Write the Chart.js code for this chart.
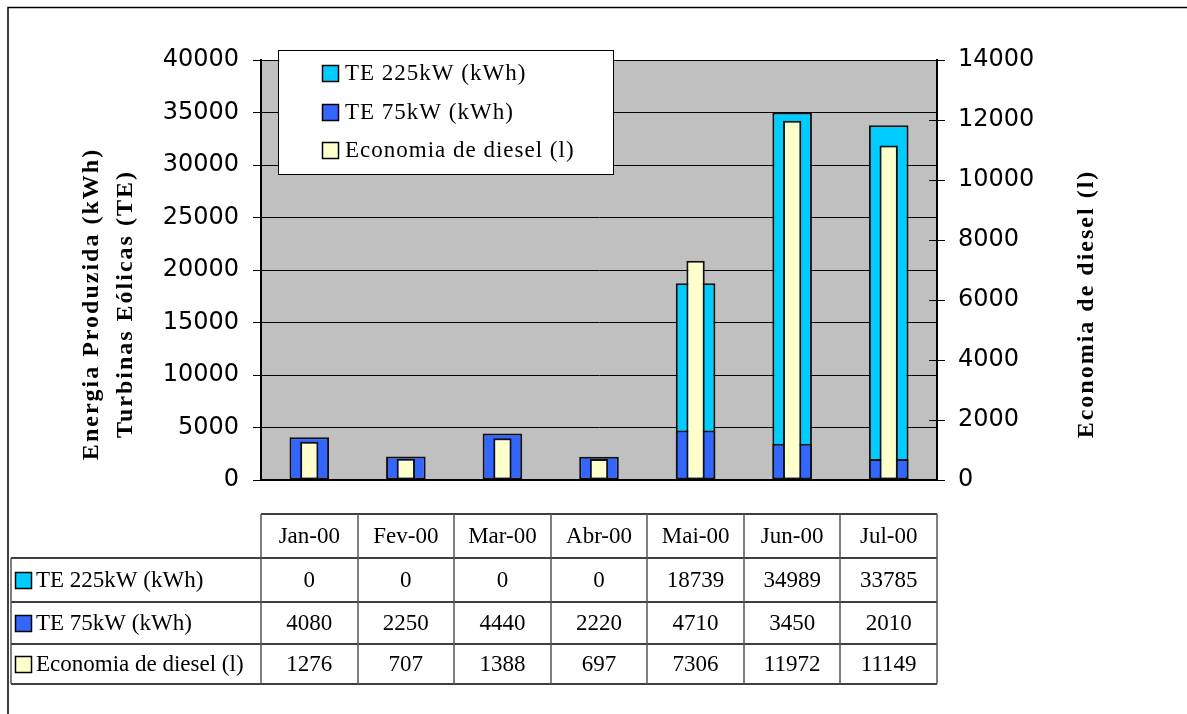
<!DOCTYPE html>
<html>
<head>
<meta charset="utf-8">
<script src="https://cdn.jsdelivr.net/npm/chart.js@4/dist/chart.umd.min.js"></script>
<style>
	body { margin: 0; background: #fff; }
	canvas { display: block; }
</style>
</head>
<body>
<canvas id="chart" width="1187" height="714"></canvas>
<script>
const months = ["Jan-00", "Fev-00", "Mar-00", "Abr-00", "Mai-00", "Jun-00", "Jul-00"];
const te225 = [0, 0, 0, 0, 18739, 34989, 33785];
const te75 = [4080, 2250, 4440, 2220, 4710, 3450, 2010];
const diesel = [1276, 707, 1388, 697, 7306, 11972, 11149];
const seriesNames = ["TE 225kW (kWh)", "TE 75kW (kWh)", "Economia de diesel (l)"];
const seriesColors = ["#00CCFF", "#3366FF", "#FFFFCC"];
const leftTitle = ["Energia Produzida (kWh)", "Turbinas Eólicas (TE)"];
const rightTitle = "Economia de diesel (l)";

const serif = "'Liberation Serif', 'Times New Roman', serif";
const tickFont = { family: "'DejaVu Sans', Verdana, sans-serif", size: 24 };

// grey plot area, drawn under the grid
const plotBackground = {
	id: "plotBackground",
	beforeDraw(chart) {
		const { ctx, chartArea: a } = chart;
		ctx.save();
		ctx.fillStyle = "#C0C0C0";
		ctx.fillRect(a.left, a.top, a.right - a.left, a.bottom - a.top);
		ctx.restore();
	},
};

function square(ctx, x, y, size, color) {
	ctx.fillStyle = color;
	ctx.fillRect(x, y, size, size);
	ctx.strokeStyle = "#000";
	ctx.lineWidth = 1.5;
	ctx.strokeRect(x + 0.5, y + 0.5, size - 1, size - 1);
}

// frame, titles, legend box and data table
const extras = {
	id: "extras",
	afterDatasetsDraw(chart) {
		const { ctx, chartArea: a } = chart;
		const y2 = chart.scales.y2;
		ctx.save();
		ctx.strokeStyle = "#000";
		ctx.lineWidth = 2;
		ctx.beginPath();
		ctx.moveTo(a.left, a.bottom);
		ctx.lineTo(a.right, a.bottom);
		ctx.stroke();
		// inner half of the right axis ticks
		ctx.lineWidth = 1;
		y2.ticks.forEach((t) => {
			const py = Math.round(y2.getPixelForValue(t.value)) + 0.5;
			ctx.beginPath();
			ctx.moveTo(a.right - 8, py);
			ctx.lineTo(a.right, py);
			ctx.stroke();
		});
		ctx.restore();
	},
	afterDraw(chart) {
		const { ctx, chartArea: a } = chart;
		ctx.save();

		// outer frame (top and left only)
		ctx.strokeStyle = "#000";
		ctx.lineWidth = 1.5;
		ctx.beginPath();
		ctx.moveTo(8, 714);
		ctx.lineTo(8, 7.5);
		ctx.lineTo(1187, 7.5);
		ctx.stroke();

		// axis titles
		ctx.fillStyle = "#000";
		ctx.font = "bold 24px " + serif;
		ctx.letterSpacing = "2px";
		ctx.textAlign = "center";
		ctx.textBaseline = "middle";
		[[92, leftTitle[0]], [126, leftTitle[1]], [1087, rightTitle]].forEach(([x, txt]) => {
			ctx.save();
			ctx.translate(x, 304);
			ctx.rotate(-Math.PI / 2);
			ctx.fillText(txt, 0, 0);
			ctx.restore();
		});

		// legend
		ctx.fillStyle = "#fff";
		ctx.fillRect(278, 50, 335, 124);
		ctx.strokeStyle = "#000";
		ctx.lineWidth = 1;
		ctx.strokeRect(278.5, 50.5, 335, 124);
		ctx.font = "23px " + serif;
		ctx.letterSpacing = "1px";
		ctx.textAlign = "left";
		[73, 112, 150].forEach((cy, i) => {
			square(ctx, 322, cy - 8, 17, seriesColors[i]);
			ctx.fillStyle = "#000";
			ctx.fillText(seriesNames[i], 345, cy + 1);
		});

		// data table
		const w = (a.right - a.left) / months.length;
		const rows = [514, 558, 602, 644, 684];
		const labelLeft = 11;
		ctx.strokeStyle = "#000";
		ctx.lineWidth = 1.5;
		ctx.beginPath();
		ctx.moveTo(a.left, rows[0]);
		ctx.lineTo(a.right, rows[0]);
		for (let r = 1; r < rows.length; r++) {
			ctx.moveTo(labelLeft, rows[r]);
			ctx.lineTo(a.right, rows[r]);
		}
		ctx.stroke();
		ctx.strokeStyle = "#555";
		ctx.beginPath();
		for (let c = 0; c <= months.length; c++) {
			const x = Math.round(a.left + c * w);
			ctx.moveTo(x, rows[0]);
			ctx.lineTo(x, rows[4]);
		}
		ctx.moveTo(labelLeft, rows[1]);
		ctx.lineTo(labelLeft, rows[4]);
		ctx.stroke();

		ctx.fillStyle = "#000";
		ctx.font = "23px " + serif;
		ctx.letterSpacing = "0px";
		ctx.textAlign = "center";
		const tableRows = [te225, te75, diesel];
		months.forEach((m, c) => {
			const cx = a.left + (c + 0.5) * w;
			ctx.fillText(m, cx, (rows[0] + rows[1]) / 2 + 1);
			tableRows.forEach((vals, r) => {
				ctx.fillText(String(vals[c]), cx, (rows[r + 1] + rows[r + 2]) / 2 + 1);
			});
		});
		ctx.textAlign = "left";
		tableRows.forEach((vals, r) => {
			const cy = (rows[r + 1] + rows[r + 2]) / 2;
			square(ctx, 15, cy - 8, 17, seriesColors[r]);
			ctx.fillStyle = "#000";
			ctx.fillText(seriesNames[r], 36, cy + 1);
		});
		ctx.restore();
	},
};

const barStyle = {
	borderColor: "#111",
	borderWidth: 2,
	borderSkipped: false,
	grouped: false,
	categoryPercentage: 1,
};

new Chart(document.getElementById("chart"), {
	type: "bar",
	data: {
		labels: months,
		datasets: [
			{ ...barStyle, label: seriesNames[0], data: te225, backgroundColor: seriesColors[0], barPercentage: 0.41, yAxisID: "y", order: 3 },
			{ ...barStyle, label: seriesNames[1], data: te75, backgroundColor: seriesColors[1], barPercentage: 0.41, yAxisID: "y", order: 2 },
			{ ...barStyle, label: seriesNames[2], data: diesel, backgroundColor: seriesColors[2], barPercentage: 0.19, yAxisID: "y2", order: 1 },
		],
	},
	options: {
		responsive: false,
		animation: false,
		layout: { padding: { left: 0, right: 0, top: 60, bottom: 234 } },
		plugins: { legend: { display: false }, tooltip: { enabled: false } },
		scales: {
			x: { display: false },
			y: {
				position: "left",
				min: 0,
				max: 40000,
				afterFit: (s) => { s.width = 261; },
				ticks: { stepSize: 5000, padding: 14, color: "#000", font: tickFont, callback: (v) => String(v) },
				grid: { color: "#000", lineWidth: 1, tickLength: 8 },
				border: { color: "#000", width: 2 },
			},
			y2: {
				position: "right",
				min: 0,
				max: 14000,
				afterFit: (s) => { s.width = 250; },
				ticks: { stepSize: 2000, padding: 13, color: "#000", font: tickFont, callback: (v) => String(v) },
				grid: { drawOnChartArea: false, color: "#000", tickLength: 8 },
				border: { color: "#000", width: 2 },
			},
		},
	},
	plugins: [plotBackground, extras],
});
</script>
</body>
</html>
